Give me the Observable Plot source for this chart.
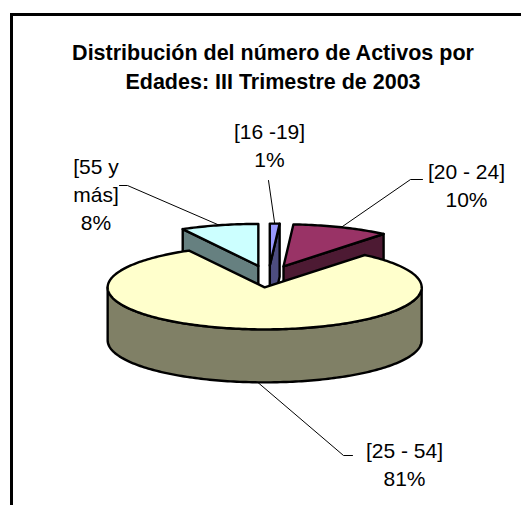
<!DOCTYPE html>
<html>
<head>
<meta charset="utf-8">
<script src="https://cdn.jsdelivr.net/npm/d3@7"></script>
<script src="https://cdn.jsdelivr.net/npm/@observablehq/plot@0.6"></script>
<style>
  html, body { margin: 0; padding: 0; background: #fff; overflow: hidden; }
  #wrap { position: relative; width: 521px; height: 505px; }
  #frame { position: absolute; left: 10px; top: 13px; width: 600px; height: 600px;
           border-left: 3px solid #000; border-top: 3px solid #000; pointer-events: none; }
  svg { display: block; }
</style>
</head>
<body>
<div id="wrap"><div id="frame"></div></div>
<script>
// ---- data ----
const categories = ["[16 -19]", "[20 - 24]", "[25 - 54]", "[55 y más]"];
const labelText  = ["[16 -19]", "[20 - 24]", "[25 - 54]", "[55 y\nmás]"];
const percents   = [1, 10, 81, 8];
const topColors  = ["#9999FF", "#993366", "#FFFFCC", "#CCFFFF"];
const sideColors = ["#4D4D80", "#4D1A33", "#808066", "#668080"];
const titleText  = "Distribución del número de Activos por\nEdades: III Trimestre de 2003";

// ---- layout (pixels) ----
const W = 521, H = 505;
const CX = 268, CY = 276, R = 157, RY = 42, DEPTH = 53, EXPLODE = 0.26;
const labelPos   = [[269, 118], [466, 158], [404, 437], [95.5, 153]];
const leaderFrom = [[[268, 180]], [[422, 179], [410, 179]], [[352, 455], [343, 455]], [[119, 185], [127, 185]]];
const leaderSide = [0, 0, 1, 0]; // 0: top rim, 1: bottom rim
const leaderAngleShift = [0, 0, -0.05, 0];

const arcs = d3.pie().sort(null).startAngle(0).endAngle(2 * Math.PI)(percents);

const slices = arcs.map((a, i) => {
  const mid = (a.startAngle + a.endAngle) / 2;
  const ax = CX + EXPLODE * R * Math.sin(mid);
  const ay = CY - EXPLODE * RY * Math.cos(mid);
  const pt = (ang, r, h) => [ax + r * R * Math.sin(ang), ay - r * RY * Math.cos(ang) + h * DEPTH];
  return {i, a0: a.startAngle, a1: a.endAngle, mid, ax, ay, pt};
});

function arcPts(s, from, to, h) {
  const n = Math.max(2, Math.ceil(Math.abs(to - from) / 0.02));
  const out = [];
  for (let k = 0; k <= n; k++) out.push(s.pt(from + (to - from) * k / n, 1, h));
  return out;
}

const polys = [];
let pid = 0;
function addPoly(pts, fill) {
  const id = pid++;
  pts.forEach(([x, y], j) => polys.push({id, x, y, fill, j}));
}

const order = [...slices].sort((p, q) => p.ay - q.ay);
for (const s of order) {
  const side = sideColors[s.i], top = topColors[s.i];
  if (Math.sin(s.a0) < -1e-6) {
    addPoly([s.pt(0, 0, 0), s.pt(s.a0, 1, 0), s.pt(s.a0, 1, 1), s.pt(0, 0, 1)], side);
  }
  if (Math.sin(s.a1) > 1e-6) {
    addPoly([s.pt(0, 0, 0), s.pt(s.a1, 1, 0), s.pt(s.a1, 1, 1), s.pt(0, 0, 1)], side);
  }
  const w0 = Math.max(s.a0, Math.PI / 2), w1 = Math.min(s.a1, 3 * Math.PI / 2);
  if (w1 > w0) {
    addPoly([...arcPts(s, w0, w1, 0), ...arcPts(s, w1, w0, 1)], side);
  }
  addPoly([s.pt(0, 0, 0), ...arcPts(s, s.a0, s.a1, 0)], top);
}

const leaders = [];
slices.forEach((s, i) => {
  const pts = [...leaderFrom[i], s.pt(s.mid + leaderAngleShift[i], 1, leaderSide[i])];
  pts.forEach(([x, y], j) => leaders.push({id: i, x, y, j}));
});

const labels = slices.map((s, i) => ({
  x: labelPos[i][0], y: labelPos[i][1],
  text: labelText[i] + "\n" + percents[i] + "%"
}));

const chart = Plot.plot({
  width: W, height: H,
  margin: 0,
  x: {domain: [0, W], range: [0, W], axis: null},
  y: {domain: [0, H], range: [0, H], axis: null},
  color: {type: "identity"},
  style: {fontFamily: "'Liberation Sans', Arial, sans-serif", background: "transparent"},
  marks: [
    Plot.text([titleText], {x: () => 272.5, y: () => 40, text: d => d, fontSize: 21.5, fontWeight: "bold",
      lineAnchor: "top", lineHeight: 1.31, textAnchor: "middle", fill: "#000"}),
    Plot.line(leaders, {x: "x", y: "y", z: "id", stroke: "#000", strokeWidth: 1}),
    Plot.line(polys, {x: "x", y: "y", z: "id", fill: "fill", stroke: "#000", strokeWidth: 2.4,
      strokeLinejoin: "round", curve: "linear-closed"}),
    Plot.text(labels, {x: "x", y: "y", text: "text", fontSize: 21, lineAnchor: "top",
      lineHeight: 1.35, textAnchor: "middle", fill: "#000"})
  ]
});
document.getElementById("wrap").prepend(chart);
</script>
</body>
</html>
